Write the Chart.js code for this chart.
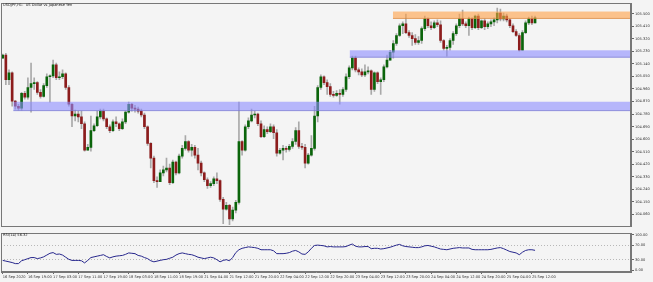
<!DOCTYPE html>
<html>
<head>
<meta charset="utf-8">
<script src="https://cdn.jsdelivr.net/npm/chart.js@4.4.0/dist/chart.umd.min.js"></script>
<style>
    html, body { margin: 0; padding: 0; background: #f4f4f4; }
    #wrap { position: relative; width: 653px; height: 282px; overflow: hidden; }
    #mainCanvas { position: absolute; left: 0; top: 0; }
    #rsiCanvas { position: absolute; left: 0; top: 230px; }
    .lbl { position: absolute; font-family: "DejaVu Sans", sans-serif; font-size: 3.6px; color: #222; white-space: nowrap; }
</style>
</head>
<body>
<div id="wrap">
    <canvas id="mainCanvas" width="653" height="230"></canvas>
    <canvas id="rsiCanvas" width="653" height="52"></canvas>
    <div class="lbl" style="left:3px;top:3px;">USDJPY,H1:&nbsp; US Dollar vs Japanese Yen</div>
    <div class="lbl" style="left:3px;top:233px;">RSI(14) 56.32</div>
</div>
<script>
// USDJPY H1, 16 Sep 11:00 .. 25 Sep 13:00 (one value per hourly bar)
var opens = [
    105.181, 105.202, 105.026, 105.075, 104.872, 104.836, 104.822, 104.928, 104.900, 104.970, 104.998, 105.005, 104.935, 104.907, 104.984, 105.047, 105.054, 105.132, 105.040, 105.047, 105.068, 104.970, 104.850, 104.766, 104.780, 104.759, 104.710, 104.520, 104.541, 104.661, 104.696, 104.759, 104.801, 104.745, 104.689, 104.661, 104.724, 104.710, 104.675, 104.724, 104.794, 104.850, 104.822,
    104.815, 104.801, 104.773, 104.689, 104.569, 104.464, 104.302, 104.295, 104.358, 104.379, 104.393, 104.288, 104.436, 104.358, 104.478, 104.534, 104.583, 104.520, 104.541, 104.485, 104.428, 104.358, 104.309, 104.267, 104.281, 104.316, 104.302, 104.168, 104.098, 104.126, 104.028, 104.091, 104.147, 104.583, 104.520, 104.689, 104.731, 104.773, 104.780, 104.710, 104.618, 104.668, 104.654, 104.689,
    104.646, 104.499, 104.520, 104.534, 104.527, 104.548, 104.583, 104.661, 104.548, 104.541, 104.428, 104.485, 104.534, 104.766, 104.970, 105.047, 105.005, 104.977, 104.921, 104.914, 104.928, 104.921, 104.956, 105.047, 105.111, 105.181, 105.097, 105.082, 105.061, 105.082, 105.089, 104.956, 105.075, 105.012, 105.026, 105.118, 105.167, 105.223, 105.286, 105.343, 105.413, 105.427,
    105.364, 105.343, 105.321, 105.293, 105.307, 105.392, 105.462, 105.413, 105.399, 105.434, 105.420, 105.307, 105.251, 105.258, 105.307, 105.357, 105.413, 105.462, 105.427, 105.413, 105.462, 105.399, 105.483, 105.399, 105.448, 105.406, 105.427, 105.441, 105.455, 105.504, 105.462, 105.483, 105.455, 105.413, 105.371, 105.343, 105.237, 105.364, 105.434, 105.462, 105.434
];
var highs = [
    105.209, 105.216, 105.097, 105.082, 104.879, 104.850, 104.935, 104.942, 105.040, 105.146, 105.040, 105.012, 104.956, 104.998, 105.068, 105.061, 105.167, 105.146, 105.082, 105.097, 105.075, 104.984, 104.857, 104.808, 104.801, 104.801, 104.724, 104.562, 104.766, 104.710, 104.801, 104.815, 104.815, 104.752, 104.703, 104.738, 104.759, 104.717, 104.745, 104.801, 104.865, 104.857, 104.843,
    104.829, 104.815, 104.787, 104.696, 104.576, 104.478, 104.330, 104.379, 104.407, 104.464, 104.421, 104.450, 104.443, 104.492, 104.555, 104.625, 104.590, 104.562, 104.555, 104.534, 104.443, 104.365, 104.323, 104.295, 104.330, 104.358, 104.309, 104.182, 104.147, 104.133, 104.112, 104.161, 104.865, 104.590, 104.703, 104.752, 104.815, 104.801, 104.787, 104.731, 104.696, 104.689, 104.710, 104.703,
    104.668, 104.534, 104.555, 104.548, 104.562, 104.604, 104.682, 104.724, 104.569, 104.562, 104.499, 104.625, 104.836, 104.984, 105.061, 105.054, 105.026, 104.998, 104.942, 104.949, 104.956, 104.970, 105.068, 105.125, 105.195, 105.195, 105.111, 105.104, 105.132, 105.118, 105.097, 105.082, 105.082, 105.040, 105.132, 105.202, 105.237, 105.307, 105.357, 105.427, 105.441, 105.497,
    105.378, 105.364, 105.350, 105.336, 105.406, 105.483, 105.469, 105.441, 105.448, 105.455, 105.448, 105.314, 105.272, 105.321, 105.371, 105.427, 105.497, 105.525, 105.441, 105.476, 105.469, 105.490, 105.497, 105.455, 105.462, 105.441, 105.455, 105.469, 105.539, 105.532, 105.504, 105.497, 105.462, 105.427, 105.385, 105.357, 105.378, 105.448, 105.476, 105.483, 105.483
];
var lows = [
    105.181, 104.991, 104.991, 104.836, 104.815, 104.808, 104.808, 104.886, 104.886, 104.794, 104.956, 104.921, 104.893, 104.900, 104.970, 104.865, 105.040, 105.026, 105.026, 105.033, 104.956, 104.836, 104.689, 104.731, 104.724, 104.675, 104.513, 104.520, 104.513, 104.654, 104.689, 104.745, 104.731, 104.675, 104.646, 104.654, 104.689, 104.661, 104.668, 104.710, 104.787, 104.801, 104.794,
    104.787, 104.759, 104.675, 104.555, 104.393, 104.288, 104.253, 104.295, 104.337, 104.365, 104.274, 104.281, 104.344, 104.351, 104.464, 104.520, 104.506, 104.478, 104.464, 104.379, 104.337, 104.295, 104.246, 104.253, 104.267, 104.281, 104.154, 103.993, 104.091, 103.986, 104.014, 104.070, 104.133, 104.485, 104.513, 104.675, 104.724, 104.752, 104.696, 104.611, 104.611, 104.639, 104.646, 104.604,
    104.478, 104.492, 104.450, 104.506, 104.513, 104.534, 104.562, 104.534, 104.527, 104.393, 104.421, 104.478, 104.520, 104.724, 104.956, 104.991, 104.921, 104.907, 104.900, 104.907, 104.850, 104.907, 104.942, 105.033, 105.097, 105.082, 105.061, 105.047, 105.047, 105.068, 104.921, 104.942, 104.998, 104.921, 105.012, 105.111, 105.167, 105.181, 105.272, 105.336, 105.357, 105.357,
    105.329, 105.272, 105.279, 105.279, 105.286, 105.378, 105.399, 105.385, 105.392, 105.406, 105.293, 105.237, 105.195, 105.237, 105.279, 105.343, 105.399, 105.413, 105.399, 105.343, 105.385, 105.392, 105.385, 105.392, 105.385, 105.392, 105.406, 105.413, 105.434, 105.448, 105.448, 105.441, 105.399, 105.364, 105.336, 105.230, 105.237, 105.357, 105.420, 105.420, 105.434
];
var closes = [
    105.202, 105.026, 105.075, 104.872, 104.836, 104.822, 104.928, 104.900, 104.970, 104.998, 105.005, 104.935, 104.907, 104.984, 105.047, 105.054, 105.132, 105.040, 105.047, 105.068, 104.970, 104.850, 104.766, 104.780, 104.759, 104.710, 104.520, 104.541, 104.661, 104.696, 104.759, 104.801, 104.745, 104.689, 104.661, 104.724, 104.710, 104.675, 104.724, 104.794, 104.850, 104.822, 104.815,
    104.801, 104.773, 104.689, 104.569, 104.464, 104.302, 104.295, 104.358, 104.379, 104.393, 104.288, 104.436, 104.358, 104.478, 104.534, 104.583, 104.520, 104.541, 104.485, 104.428, 104.358, 104.309, 104.267, 104.281, 104.316, 104.302, 104.168, 104.098, 104.126, 104.028, 104.091, 104.147, 104.583, 104.520, 104.689, 104.731, 104.773, 104.780, 104.710, 104.618, 104.668, 104.654, 104.689, 104.646,
    104.499, 104.520, 104.534, 104.527, 104.548, 104.583, 104.661, 104.548, 104.541, 104.428, 104.485, 104.534, 104.766, 104.970, 105.047, 105.005, 104.977, 104.921, 104.914, 104.928, 104.921, 104.956, 105.047, 105.111, 105.181, 105.097, 105.082, 105.061, 105.082, 105.089, 104.956, 105.075, 105.012, 105.026, 105.118, 105.167, 105.223, 105.286, 105.343, 105.413, 105.427, 105.364,
    105.343, 105.321, 105.293, 105.307, 105.392, 105.462, 105.413, 105.399, 105.434, 105.420, 105.307, 105.251, 105.258, 105.307, 105.357, 105.413, 105.462, 105.427, 105.413, 105.462, 105.399, 105.483, 105.399, 105.448, 105.406, 105.427, 105.441, 105.455, 105.504, 105.462, 105.483, 105.455, 105.413, 105.371, 105.343, 105.237, 105.364, 105.434, 105.462, 105.434, 105.469
];
var rsiValues = [
    28, 26, 24, 22, 19, 19, 27, 30, 33, 36, 36, 33, 35, 38, 43, 48, 50, 45, 46, 43, 37, 31, 28, 28, 28, 27, 21, 28, 36, 38, 40, 42, 44, 39, 35, 38, 40, 41, 42, 45, 49, 48, 47,
    42, 40, 36, 33, 27, 24, 26, 28, 30, 31, 34, 37, 43, 47, 49, 47, 45, 44, 41, 37, 35, 33, 35, 37, 35, 30, 24, 28, 30, 27, 36, 50, 58, 62, 64, 66, 65, 64, 62, 58, 58, 58, 58, 55,
    47, 47, 47, 48, 50, 54, 56, 52, 46, 45, 52, 62, 70, 71, 70, 69, 66, 67, 66, 66, 66, 66, 67, 71, 74, 68, 66, 66, 67, 67, 61, 62, 62, 60, 61, 63, 65, 68, 71, 73, 69, 67,
    66, 65, 64, 64, 66, 69, 70, 68, 66, 63, 60, 59, 58, 60, 62, 63, 64, 63, 63, 63, 59, 58, 58, 58, 58, 58, 59, 61, 63, 64, 61, 57, 53, 51, 49, 44, 51, 56, 58, 58, 56.3
];
var timeLabels = ['16 Sep 2020', '16 Sep 19:00', '17 Sep 03:00', '17 Sep 11:00', '17 Sep 19:00', '18 Sep 03:00', '18 Sep 11:00', '18 Sep 19:00',
    '21 Sep 04:00', '21 Sep 12:00', '21 Sep 20:00', '22 Sep 04:00', '22 Sep 12:00', '22 Sep 20:00', '23 Sep 04:00', '23 Sep 12:00', '23 Sep 20:00',
    '24 Sep 04:00', '24 Sep 12:00', '24 Sep 20:00', '25 Sep 04:00', '25 Sep 12:00'];
var labelStep = 8;  // bars between time labels
var priceTicks = [105.500, 105.410, 105.320, 105.230, 105.140, 105.050, 104.960, 104.870, 104.780, 104.690, 104.600, 104.510, 104.420, 104.330, 104.240, 104.150, 104.060];
var rsiTicks = [0, 30, 70, 100];
// support / resistance rectangles: start bar, top price, bottom price
var zoneStarts = [123.9, 110.2, 3.4];
var zoneTops = [105.515, 105.237, 104.868];
var zoneBottoms = [105.462, 105.184, 104.801];

var zoneFill = ['rgba(255,160,70,0.6)', 'rgba(140,140,255,0.6)', 'rgba(140,140,255,0.6)'];
var zoneEdge = ['rgba(200,120,50,0.5)', 'rgba(110,110,190,0.5)', 'rgba(110,110,190,0.5)'];
var xMin = -0.54, xMax = 199.46;
var tickFont = { size: 3.6, family: 'DejaVu Sans' };

var bodies = [], wicks = [], bodyColors = [];
opens.forEach(function (o, i) {
    var c = closes[i];
    bodies.push({ x: i, y: [o, c] });
    wicks.push({ x: i, y: [lows[i], highs[i]] });
    bodyColors.push(c > o ? '#0a640a' : (c < o ? '#8c1c1c' : '#8a8a8a'));
});

var framePlugin = {
    id: 'frame',
    afterDraw: function (chart) {
        var a = chart.chartArea, ctx = chart.ctx;
        ctx.save();
        ctx.strokeStyle = '#777';
        ctx.lineWidth = 1;
        ctx.strokeRect(Math.floor(a.left) + 0.5, Math.floor(a.top) + 0.5, Math.round(a.right - a.left) - 1, Math.round(a.bottom - a.top) - 1);
        ctx.restore();
    }
};

var zonePlugin = {
    id: 'zones',
    afterDatasetsDraw: function (chart) {
        var a = chart.chartArea, ctx = chart.ctx;
        var xs = chart.scales.x, ys = chart.scales.y;
        ctx.save();
        zoneStarts.forEach(function (s, k) {
            var x1 = Math.max(a.left, xs.getPixelForValue(s));
            var y1 = ys.getPixelForValue(zoneTops[k]);
            var y2 = ys.getPixelForValue(zoneBottoms[k]);
            ctx.fillStyle = zoneFill[k];
            ctx.fillRect(x1, y1, a.right - x1, y2 - y1);
            ctx.fillStyle = zoneEdge[k];
            ctx.fillRect(x1, y2 - 1, a.right - x1, 1);
        });
        ctx.restore();
    }
};

new Chart(document.getElementById('mainCanvas'), {
    type: 'bar',
    data: {
        datasets: [
            { data: bodies, backgroundColor: bodyColors, barThickness: 2, minBarLength: 1, grouped: false },
            { data: wicks, backgroundColor: '#a9a9a9', barThickness: 1, grouped: false }
        ]
    },
    options: {
        animation: false,
        responsive: false,
        layout: { padding: { left: 1, top: 2, right: 0, bottom: 0 } },
        plugins: { legend: { display: false }, tooltip: { enabled: false } },
        scales: {
            x: { type: 'linear', display: false, min: xMin, max: xMax, offset: false, grid: { offset: false } },
            y: {
                position: 'right',
                min: 103.971,
                max: 105.575,
                afterBuildTicks: function (s) { s.ticks = priceTicks.map(function (v) { return { value: v }; }); },
                afterFit: function (s) { s.width = 22; },
                grid: { drawOnChartArea: false, tickLength: 3, tickColor: '#666' },
                border: { color: '#777' },
                ticks: { font: tickFont, color: '#333', padding: 1, callback: function (v) { return v.toFixed(3); } }
            }
        }
    },
    plugins: [zonePlugin, framePlugin]
});

new Chart(document.getElementById('rsiCanvas'), {
    type: 'line',
    data: {
        datasets: [{
            data: rsiValues.map(function (v, i) { return { x: i, y: v }; }),
            borderColor: '#26268c',
            borderWidth: 1,
            pointRadius: 0,
            tension: 0
        }]
    },
    options: {
        animation: false,
        responsive: false,
        layout: { padding: { left: 1, top: 2, right: 0, bottom: 0 } },
        plugins: { legend: { display: false }, tooltip: { enabled: false } },
        scales: {
            x: {
                type: 'linear',
                min: xMin,
                max: xMax,
                afterBuildTicks: function (s) { s.ticks = timeLabels.map(function (t, k) { return { value: k * labelStep }; }); },
                afterFit: function (s) { s.height = 10; },
                grid: { drawOnChartArea: false, tickLength: 2, tickColor: '#666' },
                border: { color: '#777' },
                ticks: { autoSkip: false, maxRotation: 0, align: 'start', font: tickFont, color: '#333', padding: 1,
                    callback: function (v, k) { return timeLabels[k]; } }
            },
            y: {
                position: 'right',
                min: -4.6,
                max: 104.6,
                afterBuildTicks: function (s) { s.ticks = rsiTicks.map(function (v) { return { value: v }; }); },
                afterFit: function (s) { s.width = 22; },
                grid: {
                    tickLength: 3,
                    tickColor: '#666',
                    color: function (c) { return (c.tick && (c.tick.value === 30 || c.tick.value === 70)) ? '#b8b8b8' : 'rgba(0,0,0,0)'; }
                },
                border: { color: '#777', dash: [1, 2] },
                ticks: { font: tickFont, color: '#333', padding: 1, callback: function (v) { return v.toFixed(2); } }
            }
        }
    },
    plugins: [framePlugin]
});
</script>
</body>
</html>
